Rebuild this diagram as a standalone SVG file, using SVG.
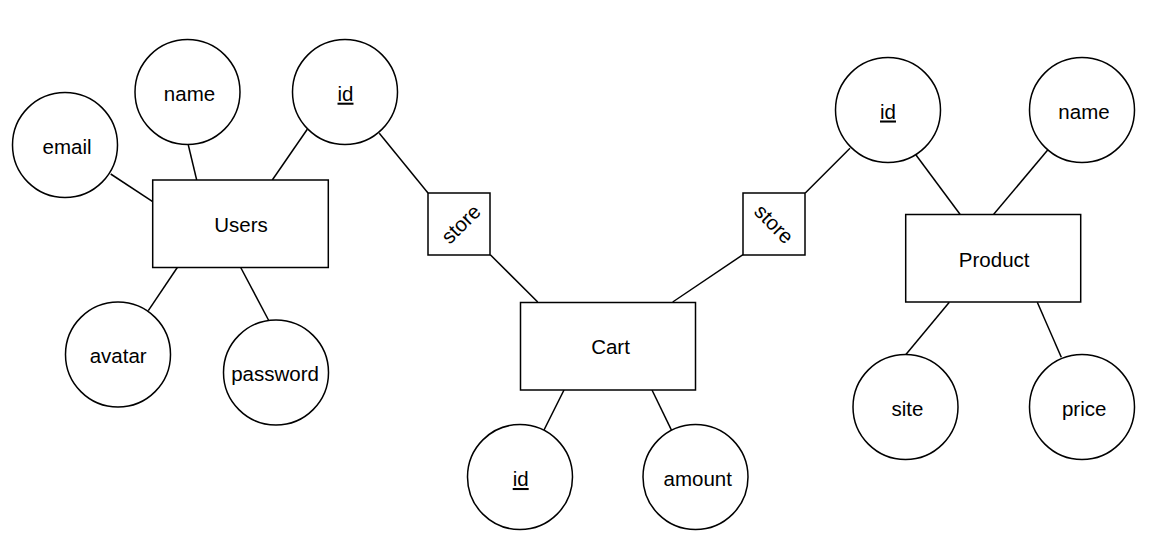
<svg xmlns="http://www.w3.org/2000/svg" width="1172" height="554" viewBox="0 0 1172 554">
  <style>
    .shape { fill: #ffffff; stroke: #000000; stroke-width: 1.5; }
    .edge { fill: none; stroke: #000000; stroke-width: 1.5; }
    .label { font-family: "Liberation Sans", Arial, sans-serif; font-size: 20.5px; fill: #000000; text-anchor: middle; }
    .key { text-decoration: underline; }
  </style>
  <rect width="1172" height="554" fill="#ffffff"/>

  <!-- connectors -->
  <g id="connectors">
    <line class="edge" x1="110.7" y1="174" x2="152.7" y2="201.7"/>
    <line class="edge" x1="188.3" y1="145" x2="196.7" y2="180"/>
    <line class="edge" x1="307.3" y1="129.3" x2="272.3" y2="180"/>
    <line class="edge" x1="177.3" y1="267.5" x2="148.3" y2="310.7"/>
    <line class="edge" x1="240.7" y1="267.5" x2="269" y2="321"/>
    <line class="edge" x1="379.3" y1="133.3" x2="428" y2="193"/>
    <line class="edge" x1="490.3" y1="254.7" x2="537.7" y2="302"/>
    <line class="edge" x1="743" y1="254.7" x2="672.7" y2="302"/>
    <line class="edge" x1="805.3" y1="193" x2="850" y2="148.3"/>
    <line class="edge" x1="564" y1="390" x2="544" y2="430"/>
    <line class="edge" x1="652" y1="390" x2="671.7" y2="430.7"/>
    <line class="edge" x1="916" y1="155" x2="960" y2="214.3"/>
    <line class="edge" x1="1047.7" y1="150" x2="993.7" y2="214.3"/>
    <line class="edge" x1="949.3" y1="302.3" x2="905.7" y2="354.7"/>
    <line class="edge" x1="1037.3" y1="302.3" x2="1061.3" y2="357.3"/>
  </g>

  <!-- Users entity and attributes -->
  <g id="users">
    <rect class="shape" x="152.7" y="180" width="175.6" height="87.5"/>
    <text class="label" x="241" y="231.7">Users</text>
  </g>
  <g id="users-email">
    <circle class="shape" cx="65" cy="145" r="52.5"/>
    <text class="label" x="67" y="154">email</text>
  </g>
  <g id="users-name">
    <circle class="shape" cx="187.5" cy="92" r="52.5"/>
    <text class="label" x="189.5" y="100.7">name</text>
  </g>
  <g id="users-id">
    <circle class="shape" cx="345" cy="92" r="52.5"/>
    <text class="label key" x="345.5" y="100.7">id</text>
  </g>
  <g id="users-avatar">
    <circle class="shape" cx="118" cy="354.5" r="52.5"/>
    <text class="label" x="118.2" y="363.3">avatar</text>
  </g>
  <g id="users-password">
    <circle class="shape" cx="276" cy="372.5" r="52.5"/>
    <text class="label" x="275" y="380.7">password</text>
  </g>

  <!-- relationships -->
  <g id="store-users-cart">
    <rect class="shape" x="428" y="193" width="62" height="62"/>
    <text class="label" x="461" y="231" transform="rotate(-45 461 224)">store</text>
  </g>
  <g id="store-cart-product">
    <rect class="shape" x="743" y="193" width="62" height="62"/>
    <text class="label" x="774" y="231" transform="rotate(45 774 224)">store</text>
  </g>

  <!-- Cart entity and attributes -->
  <g id="cart">
    <rect class="shape" x="520.5" y="302.5" width="175" height="87.5"/>
    <text class="label" x="610.5" y="354.3">Cart</text>
  </g>
  <g id="cart-id">
    <circle class="shape" cx="520" cy="477" r="52.5"/>
    <text class="label key" x="520.7" y="486">id</text>
  </g>
  <g id="cart-amount">
    <circle class="shape" cx="695.5" cy="477" r="52.5"/>
    <text class="label" x="697.8" y="486">amount</text>
  </g>

  <!-- Product entity and attributes -->
  <g id="product">
    <rect class="shape" x="905.7" y="214.5" width="175" height="87.5"/>
    <text class="label" x="994.2" y="266.7">Product</text>
  </g>
  <g id="product-id">
    <circle class="shape" cx="888" cy="110" r="52.5"/>
    <text class="label key" x="888" y="118.5">id</text>
  </g>
  <g id="product-name">
    <circle class="shape" cx="1082" cy="110" r="52.5"/>
    <text class="label" x="1084" y="118.5">name</text>
  </g>
  <g id="product-site">
    <circle class="shape" cx="905.5" cy="407" r="52.5"/>
    <text class="label" x="907.5" y="416">site</text>
  </g>
  <g id="product-price">
    <circle class="shape" cx="1082" cy="407" r="52.5"/>
    <text class="label" x="1084.2" y="416">price</text>
  </g>
</svg>
